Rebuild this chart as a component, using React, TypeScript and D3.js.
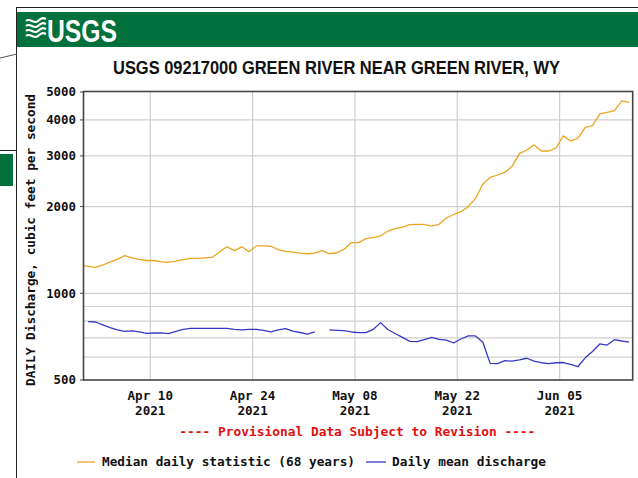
import React from 'react';
import * as d3 from 'd3';

// Median daily statistic (68 years), daily from Mar 31 2021 to Jun 14 2021
const medianValues: number[] = [
  1250, 1240, 1231, 1254, 1284, 1315, 1352, 1328, 1312, 1300,
  1300, 1286, 1282, 1294, 1310, 1323, 1323, 1328, 1333, 1395,
  1450, 1406, 1450, 1395, 1460, 1460, 1457, 1418, 1398, 1390,
  1378, 1372, 1378, 1406, 1372, 1383, 1420, 1500, 1500, 1549,
  1562, 1582, 1645, 1678, 1698, 1733, 1736, 1736, 1712, 1736,
  1826, 1878, 1920, 2000, 2135, 2395, 2525, 2575, 2628, 2760,
  3055, 3144, 3270, 3120, 3120, 3190, 3520, 3380, 3450, 3770,
  3820, 4200, 4250, 4310, 4660, 4600,
];

// Daily mean discharge, daily from Apr 1 2021 to Jun 14 2021 (null = missing)
const dischargeValues: (number | null)[] = [
  797, 795, 777, 760, 746, 737, 741, 734, 726, 728,
  729, 724, 737, 749, 755, 756, 756, 756, 756, 756,
  750, 746, 749, 750, 743, 735, 746, 754, 739, 731,
  722, 735, null, 746, 744, 742, 734, 730, 730, 749,
  791, 749, 725, 703, 681, 679, 691, 703, 692, 688,
  672, 694, 711, 711, 676, 571, 570, 584, 581, 587,
  595, 581, 574, 570, 574, 575, 567, 556, 597, 628,
  667, 661, 690, 683, 677,
];

const xTickDates: Date[] = [
  new Date(2021, 3, 10),
  new Date(2021, 3, 24),
  new Date(2021, 4, 8),
  new Date(2021, 4, 22),
  new Date(2021, 5, 5),
];
const yTickLabels: number[] = [500, 1000, 2000, 3000, 4000, 5000];
const yGridValues: number[] = [600, 700, 800, 900, 1000, 2000, 3000, 4000];

const titleText = 'USGS 09217000 GREEN RIVER NEAR GREEN RIVER, WY';
const yAxisTitle = 'DAILY Discharge, cubic feet per second';
const provisionalText = '---- Provisional Data Subject to Revision ----';
const legendMedian = 'Median daily statistic (68 years)';
const legendDaily = 'Daily mean discharge';

const MONO = "'DejaVu Sans Mono', 'Liberation Mono', monospace";
const NARROW = "'Liberation Sans Narrow', 'Liberation Sans', Arial, sans-serif";
const ORANGE = '#eba51f';
const BLUE = '#3838c4';
const GREEN = '#00703c';

type Pt = { date: Date; v: number | null };

const medianPts: Pt[] = medianValues.map((v, i) => ({ date: new Date(2021, 2, 31 + i, 12), v }));
const dailyPts: Pt[] = dischargeValues.map((v, i) => ({ date: new Date(2021, 3, 1 + i, 12), v }));

export default function App() {
  const W = 638;
  const H = 478;
  const left = 84;
  const right = 632.7;
  const top = 92;
  const bottom = 380;

  const x = d3
    .scaleTime()
    .domain([new Date(2021, 3, 1), new Date(2021, 5, 15)])
    .range([84.5, right]);
  const y = d3.scaleLog().domain([500, 5000]).range([bottom, top]);

  const line = d3
    .line<Pt>()
    .defined((d) => d.v != null)
    .x((d) => x(d.date))
    .y((d) => y(d.v as number));

  const fmtMD = d3.timeFormat('%b %d');
  const fmtY = d3.timeFormat('%Y');
  const plotCx = (left + right) / 2;

  return (
    <svg
      width={W}
      height={H}
      viewBox={`0 0 ${W} ${H}`}
      style={{ position: 'absolute', left: 0, top: 0, background: '#fff' }}
    >
      <defs>
        <clipPath id="plotClip">
          <rect x={left} y={top} width={right - left} height={bottom - top} />
        </clipPath>
      </defs>
      <rect x={0} y={0} width={W} height={H} fill="#fff" />

      {/* page decorations */}
      <line x1={16} y1={7.5} x2={W} y2={7.5} stroke="#222" strokeWidth={1} />
      <line x1={16.5} y1={7} x2={16.5} y2={H} stroke="#222" strokeWidth={1} />
      <line x1={0} y1={150.5} x2={16} y2={150.5} stroke="#222" strokeWidth={1} />
      <line x1={0} y1={58} x2={17} y2={54} stroke="#555" strokeWidth={1} />
      <rect x={0} y={154} width={13} height={32} fill={GREEN} />

      {/* header band */}
      <rect x={17} y={12} width={W - 17} height={35} fill={GREEN} />
      <g fill="none" stroke="#fff" strokeWidth={2.2}>
        <path d="M26,21 C30,17 34,25 38,21 S44,18 46,19" />
        <path d="M26,26 C30,22 34,30 38,26 S44,23 46,24" />
        <path d="M26,31 C30,27 34,35 38,31 S44,28 46,29" />
        <path d="M26,36 C30,32 34,40 38,36 S44,33 46,34" />
      </g>
      <text
        x={47}
        y={42}
        fill="#fff"
        fontFamily={NARROW}
        fontWeight="bold"
        fontSize={31}
        textLength={70}
        lengthAdjust="spacingAndGlyphs"
      >
        USGS
      </text>

      {/* title */}
      <text
        x={336.5}
        y={74}
        textAnchor="middle"
        fill="#111"
        fontFamily={NARROW}
        fontWeight="bold"
        fontSize={19}
        textLength={447}
        lengthAdjust="spacingAndGlyphs"
      >
        {titleText}
      </text>

      {/* gridlines */}
      <g stroke="#cfcfcf" strokeWidth={1.2}>
        {yGridValues.map((v) => (
          <line key={'gy' + v} x1={left} x2={right} y1={y(v)} y2={y(v)} />
        ))}
        {xTickDates.map((d) => (
          <line key={'gx' + d.getTime()} x1={x(d)} x2={x(d)} y1={top} y2={bottom} />
        ))}
      </g>

      {/* data lines */}
      <g clipPath="url(#plotClip)" fill="none" strokeLinejoin="round">
        <path d={line(medianPts) || ''} stroke={ORANGE} strokeWidth={1.3} />
        <path d={line(dailyPts) || ''} stroke={BLUE} strokeWidth={1.3} />
      </g>

      {/* frame */}
      <rect
        x={left - 0.5}
        y={top - 0.5}
        width={right - left + 0.5}
        height={bottom - top + 0.5}
        fill="none"
        stroke="#454545"
        strokeWidth={1.6}
      />

      {/* y ticks & labels */}
      {yTickLabels.map((v) => (
        <g key={'yt' + v}>
          <line x1={left - 4} x2={left} y1={y(v)} y2={y(v)} stroke="#454545" strokeWidth={1} />
          <text
            x={76}
            y={y(v)}
            dy="0.36em"
            textAnchor="end"
            fontFamily={MONO}
            fontWeight="bold"
            fontSize={12.4}
            fill="#111"
          >
            {v}
          </text>
        </g>
      ))}

      {/* y axis title */}
      <text
        transform={`translate(35,240) rotate(-90)`}
        textAnchor="middle"
        fontFamily={MONO}
        fontWeight="bold"
        fontSize={12.6}
        fill="#111"
        textLength={292}
        lengthAdjust="spacingAndGlyphs"
      >
        {yAxisTitle}
      </text>

      {/* x tick labels */}
      {xTickDates.map((d) => (
        <g key={'xl' + d.getTime()} fontFamily={MONO} fontWeight="bold" fontSize={12.6} fill="#111">
          <text x={x(d)} y={400} textAnchor="middle">
            {fmtMD(d)}
          </text>
          <text x={x(d)} y={415} textAnchor="middle">
            {fmtY(d)}
          </text>
        </g>
      ))}

      {/* provisional note */}
      <text
        x={plotCx - 1}
        y={436}
        textAnchor="middle"
        fontFamily={MONO}
        fontWeight="bold"
        fontSize={12.6}
        fill="#e01010"
        textLength={356}
        lengthAdjust="spacingAndGlyphs"
      >
        {provisionalText}
      </text>

      {/* legend */}
      <line x1={77} x2={95} y1={462} y2={462} stroke={ORANGE} strokeWidth={1.3} />
      <text
        x={102}
        y={466}
        fontFamily={MONO}
        fontWeight="bold"
        fontSize={12.6}
        fill="#111"
        textLength={253}
        lengthAdjust="spacingAndGlyphs"
      >
        {legendMedian}
      </text>
      <line x1={366} x2={386} y1={462} y2={462} stroke={BLUE} strokeWidth={1.3} />
      <text
        x={392}
        y={466}
        fontFamily={MONO}
        fontWeight="bold"
        fontSize={12.6}
        fill="#111"
        textLength={154}
        lengthAdjust="spacingAndGlyphs"
      >
        {legendDaily}
      </text>
    </svg>
  );
}
